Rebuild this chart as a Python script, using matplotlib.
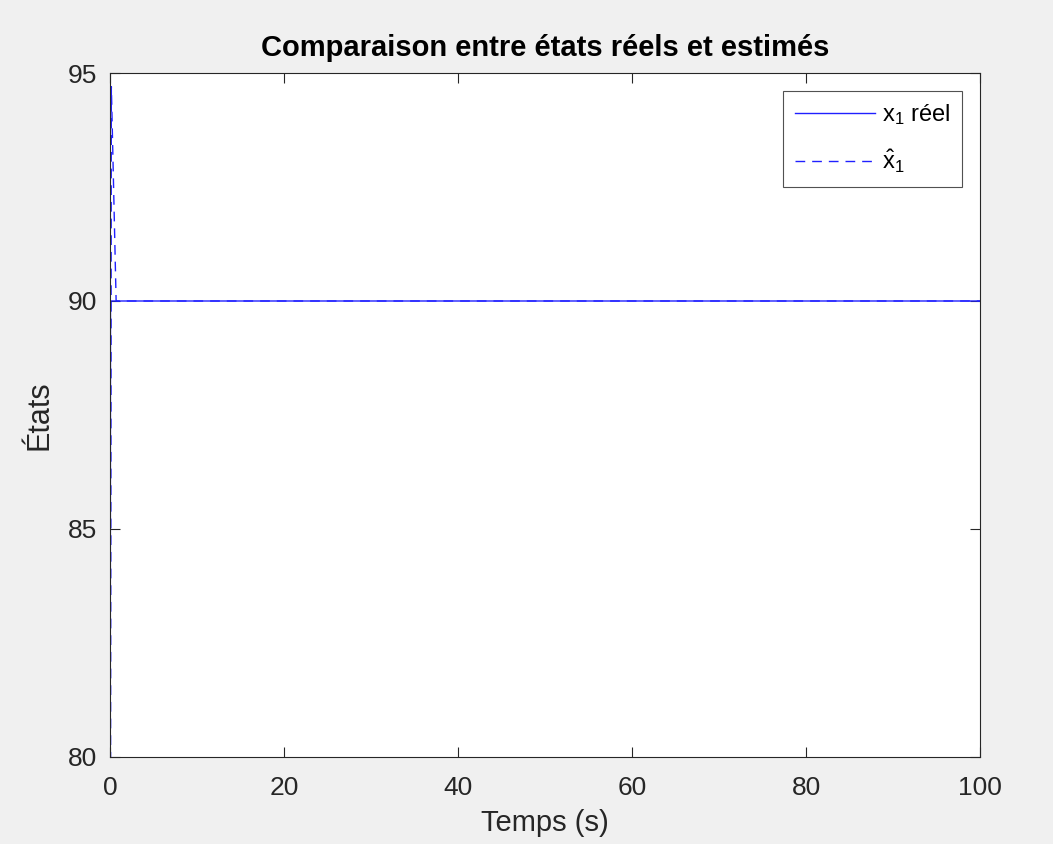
import matplotlib
matplotlib.use("Agg")
import matplotlib.pyplot as plt

plt.rcParams['font.family'] = ['Liberation Sans', 'DejaVu Sans']
plt.rcParams['mathtext.fontset'] = 'custom'
plt.rcParams['mathtext.rm'] = 'Liberation Sans'
plt.rcParams['mathtext.it'] = 'Liberation Sans'

# Time samples and state trajectories
t_real = [0.0, 0.05, 100.0]
x1_real = [70.0, 90.0, 90.0]

t_est = [0.0, 0.15, 0.7, 100.0]
x1_est = [70.0, 94.7, 90.0, 90.0]

x_ticks = [0, 20, 40, 60, 80, 100]
y_ticks = [80, 85, 90, 95]

line_color = '#2020ff'

fig = plt.figure(figsize=(10.53, 8.44), dpi=100, facecolor='#f0f0f0')
ax = fig.add_axes([0.1045, 0.1031, 0.8262, 0.8104])
ax.set_facecolor('white')

ax.plot(t_real, x1_real, color=line_color, lw=1.0, label=r'x$_1$ réel')
ax.plot(t_est, x1_est, color=line_color, lw=1.0, ls=(0, (7, 5)),
        label=r'$\hat{\mathrm{x}}_1$')

ax.set_xlim(0, 100)
ax.set_ylim(80, 95)
ax.set_xticks(x_ticks)
ax.set_yticks(y_ticks)
ax.tick_params(direction='in', top=True, right=True, length=7, width=0.8,
               labelsize=19, colors='#262626')
ax.tick_params(axis='x', pad=14)
ax.tick_params(axis='y', pad=9)
for s in ax.spines.values():
    s.set_color('#262626')
    s.set_linewidth(0.8)

ax.set_title('Comparaison entre états réels et estimés', fontsize=21,
             fontweight='bold', color='black', pad=12)
ax.set_xlabel('Temps (s)', fontsize=21, color='#262626', labelpad=6)
ax.set_ylabel('États', fontsize=22, color='#262626', labelpad=10)

leg = ax.legend(loc='upper right', fontsize=17, frameon=True, fancybox=False,
                edgecolor='#262626', handlelength=3.4, borderpad=0.5,
                labelspacing=0.85, handletextpad=0.3, borderaxespad=0.75)
leg.get_frame().set_linewidth(0.8)

fig.savefig('out.png', dpi=100, facecolor=fig.get_facecolor())
